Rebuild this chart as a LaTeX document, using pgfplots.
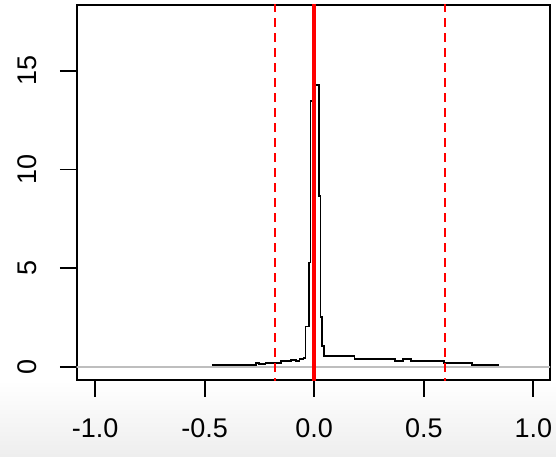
\documentclass[border=0pt]{standalone}
\usepackage{fontspec}
\setmainfont{Liberation Sans}
\usepackage{pgfplots}
\pgfplotsset{compat=1.18}
\usepackage{pgfplotstable}
\pgfplotstableread{
x y
-0.467 0.12
-0.264 0.22
-0.253 0.17
-0.222 0.22
-0.150 0.32
-0.105 0.36
-0.082 0.29
-0.067 0.39
-0.049 0.45
-0.040 2.05
-0.025 5.29
-0.017 13.45
0.006 14.26
0.021 8.67
0.029 2.55
0.036 1.05
0.044 0.54
0.184 0.42
0.369 0.30
0.407 0.42
0.442 0.32
0.594 0.22
0.720 0.12
0.845 0.12
}\dens
\begin{document}
\begin{tikzpicture}[x=1pt,y=1pt]
\path[use as bounding box] (0,0) rectangle (556,456);
\shade[top color=white, bottom color={rgb,255:red,238;green,238;blue,238}] (0,0) rectangle (556,76);
\begin{axis}[
  at={(76.7pt,76pt)}, anchor=south west,
  scale only axis, width=473.3pt, height=375pt,
  xmin=-1.0837, xmax=1.076, ymin=-0.658, ymax=18.33,
  axis line style={line width=1.8pt},
  tick style={line width=1.8pt, black},
  tick align=outside, major tick length=16.7pt,
  xtick pos=bottom, ytick pos=left,
  xtick={-1,-0.5,0,0.5,1}, xticklabels={-1.0,-0.5,0.0,0.5,1.0},
  ytick={0,5,10,15}, yticklabels={0,5,10,15},
  ticklabel style={font=\fontsize{27}{27}\selectfont, inner sep=0pt},
  xticklabel style={anchor=north},
  yticklabel style={rotate=90, anchor=south},
  xticklabel shift=22pt,
  yticklabel shift=23pt,
  clip=true,
]
\addplot[color={rgb,255:red,190;green,190;blue,190}, line width=1.8pt] coordinates {(-2,0) (2,0)};
\addplot[const plot mark left, black, line width=1.8pt] table {\dens};
\addplot[red, line width=1.8pt, dash pattern=on 9pt off 6pt] coordinates {(-0.179,-1) (-0.179,20)};
\addplot[red, line width=1.8pt, dash pattern=on 9pt off 6pt] coordinates {(0.597,-1) (0.597,20)};
\addplot[red, line width=4pt] coordinates {(-0.003,-1) (-0.003,20)};
\end{axis}
\end{tikzpicture}
\end{document}
